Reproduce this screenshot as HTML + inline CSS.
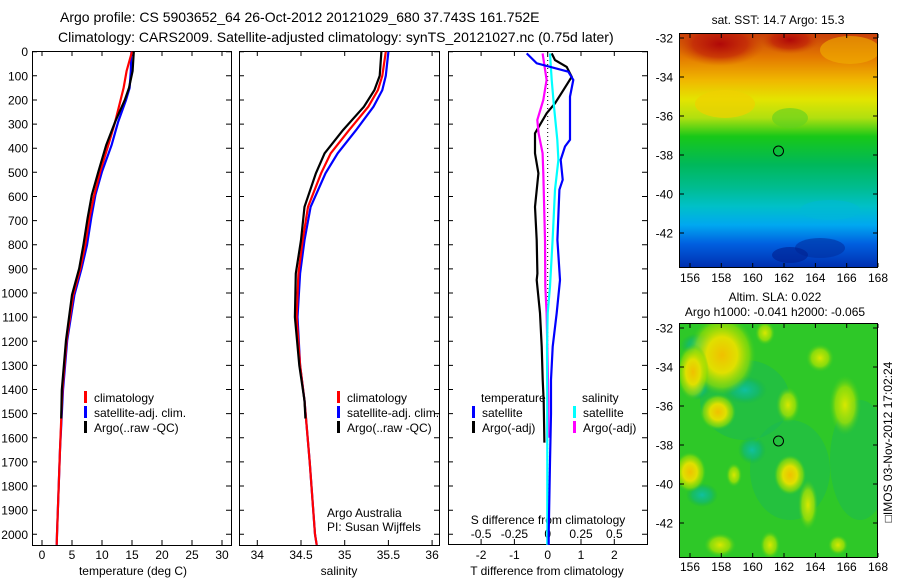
<!DOCTYPE html>
<html><head><meta charset="utf-8"><title>Argo profile</title>
<style>
html,body{margin:0;padding:0;background:#fff;}
svg{display:block;font-family:"Liberation Sans",sans-serif;}
text{fill:#000;}
</style></head>
<body>
<svg id="fig" width="900" height="580" viewBox="0 0 900 580" xmlns="http://www.w3.org/2000/svg">
<defs>
  <linearGradient id="sstGrad" x1="0" y1="0" x2="0" y2="1">
    <stop offset="0" stop-color="#c8400a"/>
    <stop offset="0.10" stop-color="#e47a00"/>
    <stop offset="0.20" stop-color="#f0b800"/>
    <stop offset="0.28" stop-color="#e4e400"/>
    <stop offset="0.36" stop-color="#b0e010"/>
    <stop offset="0.44" stop-color="#18c818"/>
    <stop offset="0.56" stop-color="#00b85a"/>
    <stop offset="0.66" stop-color="#00bc90"/>
    <stop offset="0.74" stop-color="#00c0c8"/>
    <stop offset="0.82" stop-color="#00a8f0"/>
    <stop offset="0.90" stop-color="#0060e0"/>
    <stop offset="1" stop-color="#0030b0"/>
  </linearGradient>
  <radialGradient id="redb"><stop offset="0" stop-color="#b00808"/><stop offset="0.6" stop-color="#c02008" stop-opacity="0.7"/><stop offset="1" stop-color="#d05000" stop-opacity="0"/></radialGradient>
  <radialGradient id="yb"><stop offset="0" stop-color="#f0c000"/><stop offset="0.45" stop-color="#e0e000"/><stop offset="0.8" stop-color="#a0e000" stop-opacity="0.6"/><stop offset="1" stop-color="#40cc20" stop-opacity="0"/></radialGradient>
  <radialGradient id="yl"><stop offset="0" stop-color="#d8e800"/><stop offset="0.6" stop-color="#b0e400" stop-opacity="0.7"/><stop offset="1" stop-color="#40cc20" stop-opacity="0"/></radialGradient>
  <radialGradient id="tb"><stop offset="0" stop-color="#10c0a0"/><stop offset="0.6" stop-color="#10b878" stop-opacity="0.7"/><stop offset="1" stop-color="#10b050" stop-opacity="0"/></radialGradient>
  <clipPath id="clip1"><rect x="32" y="51" width="199" height="494"/></clipPath>
  <clipPath id="clip2"><rect x="239" y="51" width="200" height="494"/></clipPath>
  <clipPath id="clip3"><rect x="448" y="51" width="199" height="494"/></clipPath>
  <clipPath id="clipM1"><rect x="680" y="34" width="197" height="233"/></clipPath>
  <clipPath id="clipM2"><rect x="680" y="324" width="197" height="233"/></clipPath>
</defs>

<text x="60" y="22" font-size="14">Argo profile: CS 5903652_64 26-Oct-2012 20121029_680 37.743S 161.752E</text>
<text x="58" y="42" font-size="14">Climatology: CARS2009. Satellite-adjusted climatology: synTS_20121027.nc (0.75d later)</text>

<g id="p1"></g>
<g id="p2"></g>
<g id="p3"></g>

<g>
  <text x="778" y="24" font-size="12" text-anchor="middle">sat. SST: 14.7 Argo: 15.3</text>
  <g clip-path="url(#clipM1)">
    <rect x="680" y="34" width="197" height="233" fill="url(#sstGrad)"/>
    <ellipse cx="720" cy="44" rx="45" ry="22" fill="url(#redb)"/>
    <ellipse cx="790" cy="40" rx="30" ry="14" fill="url(#redb)"/>
    <ellipse cx="850" cy="50" rx="30" ry="14" fill="#f0b000" opacity="0.6"/>
    <ellipse cx="725" cy="104" rx="30" ry="14" fill="#f0d000" opacity="0.7"/>
    <ellipse cx="790" cy="118" rx="18" ry="10" fill="#60d020" opacity="0.6"/>
    <ellipse cx="830" cy="210" rx="30" ry="10" fill="#00b8d8" opacity="0.5"/>
    <ellipse cx="820" cy="248" rx="25" ry="10" fill="#0030a0" opacity="0.6"/>
    <ellipse cx="790" cy="255" rx="18" ry="8" fill="#002090" opacity="0.6"/>
  </g>
  <rect x="679.5" y="33.5" width="198" height="234" fill="none" stroke="#000"/>
  <circle cx="778.5" cy="151" r="5" fill="none" stroke="#000"/>
  <g id="m1ax"></g>
</g>

<g>
  <text x="775" y="301" font-size="12" text-anchor="middle">Altim. SLA: 0.022</text>
  <text x="775" y="316" font-size="12" text-anchor="middle">Argo h1000: -0.041 h2000: -0.065</text>
  <g clip-path="url(#clipM2)">
    <rect x="680" y="324" width="197" height="233" fill="#2ec828"/>
    <ellipse cx="745" cy="400" rx="45" ry="40" fill="#18b858" opacity="0.5"/>
    <ellipse cx="790" cy="470" rx="40" ry="50" fill="#18b858" opacity="0.45"/>
    <ellipse cx="860" cy="460" rx="30" ry="60" fill="#18b858" opacity="0.45"/>
    <ellipse cx="745" cy="390" rx="22" ry="14" fill="url(#tb)"/>
    <ellipse cx="700" cy="345" rx="20" ry="12" fill="url(#tb)"/>
    <ellipse cx="697" cy="388" rx="14" ry="12" fill="url(#tb)"/>
    <ellipse cx="752" cy="450" rx="14" ry="14" fill="url(#tb)"/>
    <ellipse cx="702" cy="495" rx="16" ry="12" fill="url(#tb)"/>
    <ellipse cx="722" cy="355" rx="34" ry="40" fill="url(#yb)"/>
    <ellipse cx="693" cy="372" rx="16" ry="28" fill="url(#yb)"/>
    <ellipse cx="718" cy="412" rx="18" ry="18" fill="url(#yb)"/>
    <ellipse cx="690" cy="472" rx="16" ry="20" fill="url(#yb)"/>
    <ellipse cx="790" cy="475" rx="16" ry="20" fill="url(#yb)"/>
    <ellipse cx="808" cy="505" rx="10" ry="25" fill="url(#yl)"/>
    <ellipse cx="788" cy="405" rx="12" ry="18" fill="url(#yl)"/>
    <ellipse cx="845" cy="405" rx="16" ry="30" fill="url(#yl)"/>
    <ellipse cx="820" cy="358" rx="14" ry="14" fill="url(#yl)"/>
    <ellipse cx="765" cy="333" rx="10" ry="12" fill="url(#yl)"/>
    <ellipse cx="720" cy="545" rx="16" ry="12" fill="url(#yl)"/>
    <ellipse cx="770" cy="545" rx="10" ry="14" fill="url(#yl)"/>
    <ellipse cx="838" cy="545" rx="10" ry="10" fill="url(#yl)"/>
    <ellipse cx="734" cy="475" rx="8" ry="12" fill="url(#yl)"/>
  </g>
  <rect x="679.5" y="323.5" width="198" height="234" fill="none" stroke="#000"/>
  <circle cx="778.5" cy="441" r="5" fill="none" stroke="#000"/>
  <g id="m2ax"></g>
</g>
<text transform="translate(892,442) rotate(-90)" font-size="12" text-anchor="middle">&#9633;IMOS 03-Nov-2012 17:02:24</text>
</svg>

<script>
// ---------- data ----------
const depthTicks = [0,100,200,300,400,500,600,700,800,900,1000,1100,1200,1300,1400,1500,1600,1700,1800,1900,2000];
const tempTicks = [0,5,10,15,20,25,30];
const salTicks = [34,34.5,35,35.5,36];
const tdiffTicks = [-2,-1,0,1,2];
const sdiffTicks = [-0.5,-0.25,0,0.25,0.5];
const sdiffLabels = ["-0.5","-0.25","0","0.25","0.5"];
const lonTicks = [156,158,160,162,164,166,168];
const latTicks = [-32,-34,-36,-38,-40,-42];

const tDepth = [0,80,150,200,290,387,497,594,690,801,898,1008,1196,1402,1650,2000,2044];
const tClim  = [15.0,14.1,13.6,13.1,12.2,11.05,9.7,8.7,7.9,7.2,6.4,5.2,4.1,3.4,3.0,2.5,2.45];
const tSat   = [14.9,14.8,14.6,14.0,12.7,11.6,10.0,8.9,8.2,7.5,6.6,5.4,4.2,3.5,3.0,2.5,2.45];
const tArgoDepth = [0,80,150,200,290,387,497,594,690,801,898,1008,1196,1402,1520];
const tArgo  = [15.3,15.1,14.5,13.8,12.2,10.7,9.4,8.3,7.6,6.9,6.2,5.0,4.0,3.3,3.2];

const sDepth = [0,100,159,228,325,421,504,643,781,919,1100,1300,1446,1700,2000,2044];
const sClim  = [35.47,35.43,35.38,35.27,35.05,34.84,34.73,34.58,34.52,34.47,34.45,34.49,34.54,34.6,34.66,34.68];
const sSat   = [35.5,35.47,35.43,35.33,35.13,34.92,34.78,34.61,34.54,34.49,34.46,34.49,34.54,34.6,34.66,34.68];
const sArgoDepth = [0,100,159,228,325,421,504,643,781,919,1100,1300,1446,1520];
const sArgo  = [35.42,35.40,35.34,35.22,34.98,34.77,34.67,34.54,34.50,34.44,34.43,34.48,34.54,34.55];

const dDepth = [7,48,83,117,186,365,393,448,531,572,780,946,1083,1222,1360,1500,1700,2000,2044];
const dTSat  = [-0.63,-0.33,0.62,0.77,0.67,0.67,0.52,0.39,0.45,0.35,0.29,0.37,0.27,0.15,0.1,0.1,0.07,0.03,0.03];
const dArgoDepth = [7,35,63,104,159,214,255,338,421,504,643,781,919,946,1083,1222,1360,1450,1620];
const dTArgo = [0.12,0.22,0.57,0.72,0.47,0.22,-0.03,-0.38,-0.38,-0.28,-0.38,-0.33,-0.31,-0.33,-0.23,-0.18,-0.15,-0.12,-0.1];
const sSatDiffDepth = [7,117,228,365,448,572,780,973,1083,1222,1400,1700,2044];
const dSSat  = [0.017,0.03,0.047,0.072,0.08,0.055,0.037,0.017,0.0,-0.005,-0.004,-0.003,-0.003];
const sArgoDiffDepth = [7,117,200,283,338,421,504,780,973,1083,1300,1450,1600];
const dSArgo = [-0.038,-0.008,-0.033,-0.078,-0.068,-0.038,-0.033,-0.02,-0.018,-0.008,0.0,0.005,0.005];

// ---------- axes ----------
const NS = "http://www.w3.org/2000/svg";
const yTop = 51.7, yPer = 0.2413;
function yD(d){ return yTop + d*yPer; }
function xT(t){ return 42 + t*6.0; }
function xS(s){ return 257.3 + (s-34)*87.4; }
function xDT(t){ return 547.7 + t*33.3; }
function xDS(s){ return 547.7 + s*133.2; }
function lonX(l){ return 690 + (l-156)*15.67; }
function latY1(l){ return 38 + (-32-l)*19.5; }
function latY2(l){ return 328 + (-32-l)*19.5; }

function mk(tag, attrs, parent){
  const e = document.createElementNS(NS, tag);
  for (const k in attrs) e.setAttribute(k, attrs[k]);
  parent.appendChild(e);
  return e;
}
function stepPath(xs, ds, xf){
  let p = "";
  for (let i=0;i<xs.length;i++){
    const x = xf(xs[i]).toFixed(1), y = yD(ds[i]).toFixed(1);
    p += (i? "L":"M") + x + "," + y + " ";
  }
  return p;
}

function frame(g, x0, x1, y0, y1){
  const r = mk("rect", {x:x0+0.5, y:y0+0.5, width:x1-x0, height:y1-y0, fill:"none", stroke:"#000"}, g);
  
  
}

const p1 = document.getElementById("p1"), p2 = document.getElementById("p2"), p3 = document.getElementById("p3");
frame(p1, 32, 231, 51, 545);
frame(p2, 239, 439, 51, 545);
frame(p3, 448, 647, 51, 544);

depthTicks.forEach(d => {
  const y = yD(d);
  const t = mk("text", {x:28, y:y+4.5, "font-size":12, "text-anchor":"end"}, p1);
  t.textContent = d;
  
  
  [[32,231],[239,439],[448,647]].forEach(([a,b]) => {
    const l1 = mk("path", {d:`M${a},${y.toFixed(1)}h5M${b},${y.toFixed(1)}h-5`, stroke:"#000"}, p1);
    
    
  });
});

function xTicks(g, ticks, labels, xf, yb, yt, ly){
  ticks.forEach((v,i) => {
    const x = xf(v).toFixed(1);
    const l = mk("path", {d:`M${x},${yb}v-5M${x},${yt}v5`, stroke:"#000"}, g);
    
    
    if (labels){
      const t = mk("text", {x:x, y:ly, "font-size":12, "text-anchor":"middle"}, g);
      t.textContent = labels[i];
      
      
    }
  });
}
xTicks(p1, tempTicks, tempTicks, xT, 545, 51, 559);
xTicks(p2, salTicks, salTicks, xS, 545, 51, 559);
xTicks(p3, tdiffTicks, tdiffTicks, xDT, 544, 51, 559);
sdiffTicks.forEach((v,i) => {
  const t = mk("text", {x:xDS(v).toFixed(1), y:538, "font-size":12, "text-anchor":"middle"}, p3);
  t.textContent = sdiffLabels[i];
  
  
});

function label(g, x, y, s, name, anchor){
  const t = mk("text", {x:x, y:y, "font-size":12, "text-anchor":anchor||"start"}, g);
  t.textContent = s;
  
  
}
label(p1, 133, 575, "temperature (deg C)", "x-axis-title-temperature", "middle");
label(p2, 339, 575, "salinity", "x-axis-title-salinity", "middle");
label(p3, 547, 575, "T difference from climatology", "x-axis-title-t-diff", "middle");
label(p3, 548, 524, "S difference from climatology", "x-axis-title-s-diff", "middle");
label(p2, 327, 517, "Argo Australia", "institution-label");
label(p2, 327, 531, "PI: Susan Wijffels", "pi-label");

function series(g, clip, xs, ds, xf, color, name){
  const p = mk("path", {d:stepPath(xs, ds, xf), fill:"none", stroke:color, "stroke-width":2.2, "clip-path":clip}, g);
  
  
}
const z = mk("path", {d:`M${xDT(0)},52V544`, stroke:"#000", "stroke-dasharray":"1,3", "stroke-width":1}, p3);



series(p1, "url(#clip1)", tSat, tDepth, xT, "#0000ff", "temp-satellite-line");
series(p1, "url(#clip1)", tClim, tDepth, xT, "#ff0000", "temp-climatology-line");
series(p1, "url(#clip1)", tArgo, tArgoDepth, xT, "#000000", "temp-argo-line");
series(p2, "url(#clip2)", sSat, sDepth, xS, "#0000ff", "sal-satellite-line");
series(p2, "url(#clip2)", sClim, sDepth, xS, "#ff0000", "sal-climatology-line");
series(p2, "url(#clip2)", sArgo, sArgoDepth, xS, "#000000", "sal-argo-line");
series(p3, "url(#clip3)", dTArgo, dArgoDepth, xDT, "#000000", "t-diff-argo-line");
series(p3, "url(#clip3)", dSArgo, sArgoDiffDepth, xDS, "#ff00ff", "s-diff-argo-line");
series(p3, "url(#clip3)", dSSat, sSatDiffDepth, xDS, "#00ffff", "s-diff-satellite-line");
series(p3, "url(#clip3)", dTSat, dDepth, xDT, "#0000ff", "t-diff-satellite-line");

function legend(g, x, y, color, txt, name){
  if (color){
    const r = mk("rect", {x:x, y:y-11, width:3, height:12, fill:color}, g);
    
    
  }
  label(g, x+10, y, txt, name);
}
legend(p1, 84, 402, "#ff0000", "climatology", "legend-climatology");
legend(p1, 84, 417, "#0000ff", "satellite-adj. clim.", "legend-satellite");
legend(p1, 84, 432, "#000000", "Argo(..raw -QC)", "legend-argo");
legend(p2, 337, 402, "#ff0000", "climatology", "legend-climatology");
legend(p2, 337, 417, "#0000ff", "satellite-adj. clim.", "legend-satellite");
legend(p2, 337, 432, "#000000", "Argo(..raw -QC)", "legend-argo");
label(p3, 481, 402, "temperature", "legend-temperature-heading");
legend(p3, 472, 417, "#0000ff", "satellite", "legend-t-satellite");
legend(p3, 472, 432, "#000000", "Argo(-adj)", "legend-t-argo");
label(p3, 582, 402, "salinity", "legend-salinity-heading");
legend(p3, 573, 417, "#00ffff", "satellite", "legend-s-satellite");
legend(p3, 573, 432, "#ff00ff", "Argo(-adj)", "legend-s-argo");

function mapAxes(id, latY, yb, yt, ly){
  const g = document.getElementById(id);
  lonTicks.forEach(l => {
    const x = lonX(l).toFixed(1);
    const p = mk("path", {d:`M${x},${yb}v-4M${x},${yt}v4`, stroke:"#000"}, g);
    
    
    const t = mk("text", {x:x, y:ly, "font-size":12, "text-anchor":"middle"}, g);
    t.textContent = l;
    
    
  });
  latTicks.forEach(l => {
    const y = latY(l).toFixed(1);
    const p = mk("path", {d:`M680,${y}h4M877,${y}h-4`, stroke:"#000"}, g);
    
    
    const t = mk("text", {x:673, y:+y+4.5, "font-size":12, "text-anchor":"end"}, g);
    t.textContent = l;
    
    
  });
}
mapAxes("m1ax", latY1, 267, 34, 282);
mapAxes("m2ax", latY2, 557, 324, 571);
</script>
</body></html>
